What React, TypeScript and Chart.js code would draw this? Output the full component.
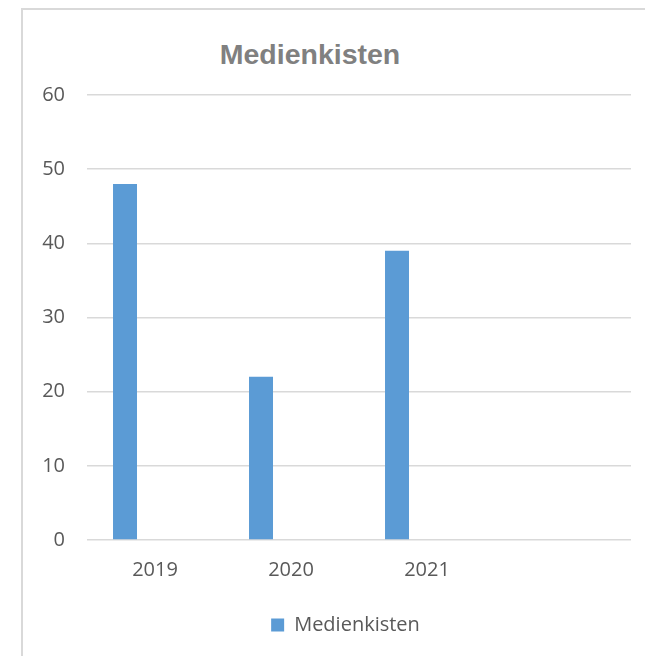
import React, { useEffect, useRef } from 'react';
import { Chart, registerables } from 'chart.js';

Chart.register(...registerables);

const chartTitle = 'Medienkisten';
const seriesName = 'Medienkisten';
const categories = ['2019', '2020', '2021', ''];
const medienkisten = [48, 22, 39, null];
const spacerSeries = [null, null, null, null];
const yMin = 0;
const yMax = 60;
const yStep = 10;

const tickFont = { family: '"Open Sans", sans-serif', size: 20 };
const textColor = '#595959';

// nudges the legend so it sits where the original (Excel) legend sits
const legendShift = {
  id: 'legendShift',
  afterLayout(chart: any) {
    const lg = chart.legend;
    if (lg) {
      lg.left += 12;
      lg.right += 12;
    }
  },
};

export default function App() {
  const ref = useRef<HTMLCanvasElement>(null);

  useEffect(() => {
    if (!ref.current) return;
    const chart = new Chart(ref.current, {
      type: 'bar',
      data: {
        labels: categories,
        datasets: [
          {
            label: seriesName,
            data: medienkisten,
            backgroundColor: '#5b9bd5',
            categoryPercentage: 0.882,
            barPercentage: 0.4,
          },
          {
            label: '',
            data: spacerSeries,
            backgroundColor: 'rgba(0,0,0,0)',
            categoryPercentage: 0.882,
            barPercentage: 0.4,
          },
        ],
      },
      options: {
        animation: false,
        responsive: false,
        maintainAspectRatio: false,
        layout: { padding: { left: 36, right: 14, top: 95, bottom: 11 } },
        plugins: {
          title: { display: false },
          tooltip: { enabled: false },
          legend: {
            position: 'bottom',
            labels: {
              filter: (item: any) => item.text !== '',
              boxWidth: 13,
              boxHeight: 13,
              color: textColor,
              font: tickFont,
              padding: 10,
            },
          },
        },
        scales: {
          x: {
            grid: { display: false },
            border: { display: false },
            ticks: { color: textColor, font: tickFont, padding: 10, maxRotation: 0 },
            afterFit: (s: any) => {
              s.height = 65;
            },
          },
          y: {
            min: yMin,
            max: yMax,
            ticks: { stepSize: yStep, color: textColor, font: tickFont, padding: 22 },
            grid: { color: '#d9d9d9', drawTicks: false, lineWidth: 1.5 },
            border: { display: false },
            afterFit: (s: any) => {
              s.width = 51;
            },
          },
        },
      },
      plugins: [legendShift],
    });
    return () => chart.destroy();
  }, []);

  return (
    <div style={{ position: 'fixed', left: 0, top: 0, width: 645, height: 656, background: '#fff', overflow: 'hidden' }}>
      <div
        style={{
          position: 'absolute',
          left: 21,
          top: 8,
          width: 700,
          height: 700,
          border: '2px solid #d9d9d9',
          boxSizing: 'border-box',
        }}
      />
      <div
        style={{
          position: 'absolute',
          left: 0,
          top: 40,
          width: 620,
          textAlign: 'center',
          font: 'bold 28.5px "Liberation Sans", Arial, sans-serif',
          lineHeight: '28px',
          color: '#808080',
        }}
      >
        {chartTitle}
      </div>
      <canvas ref={ref} width={645} height={656} style={{ position: 'absolute', left: 0, top: 0 }} />
    </div>
  );
}
